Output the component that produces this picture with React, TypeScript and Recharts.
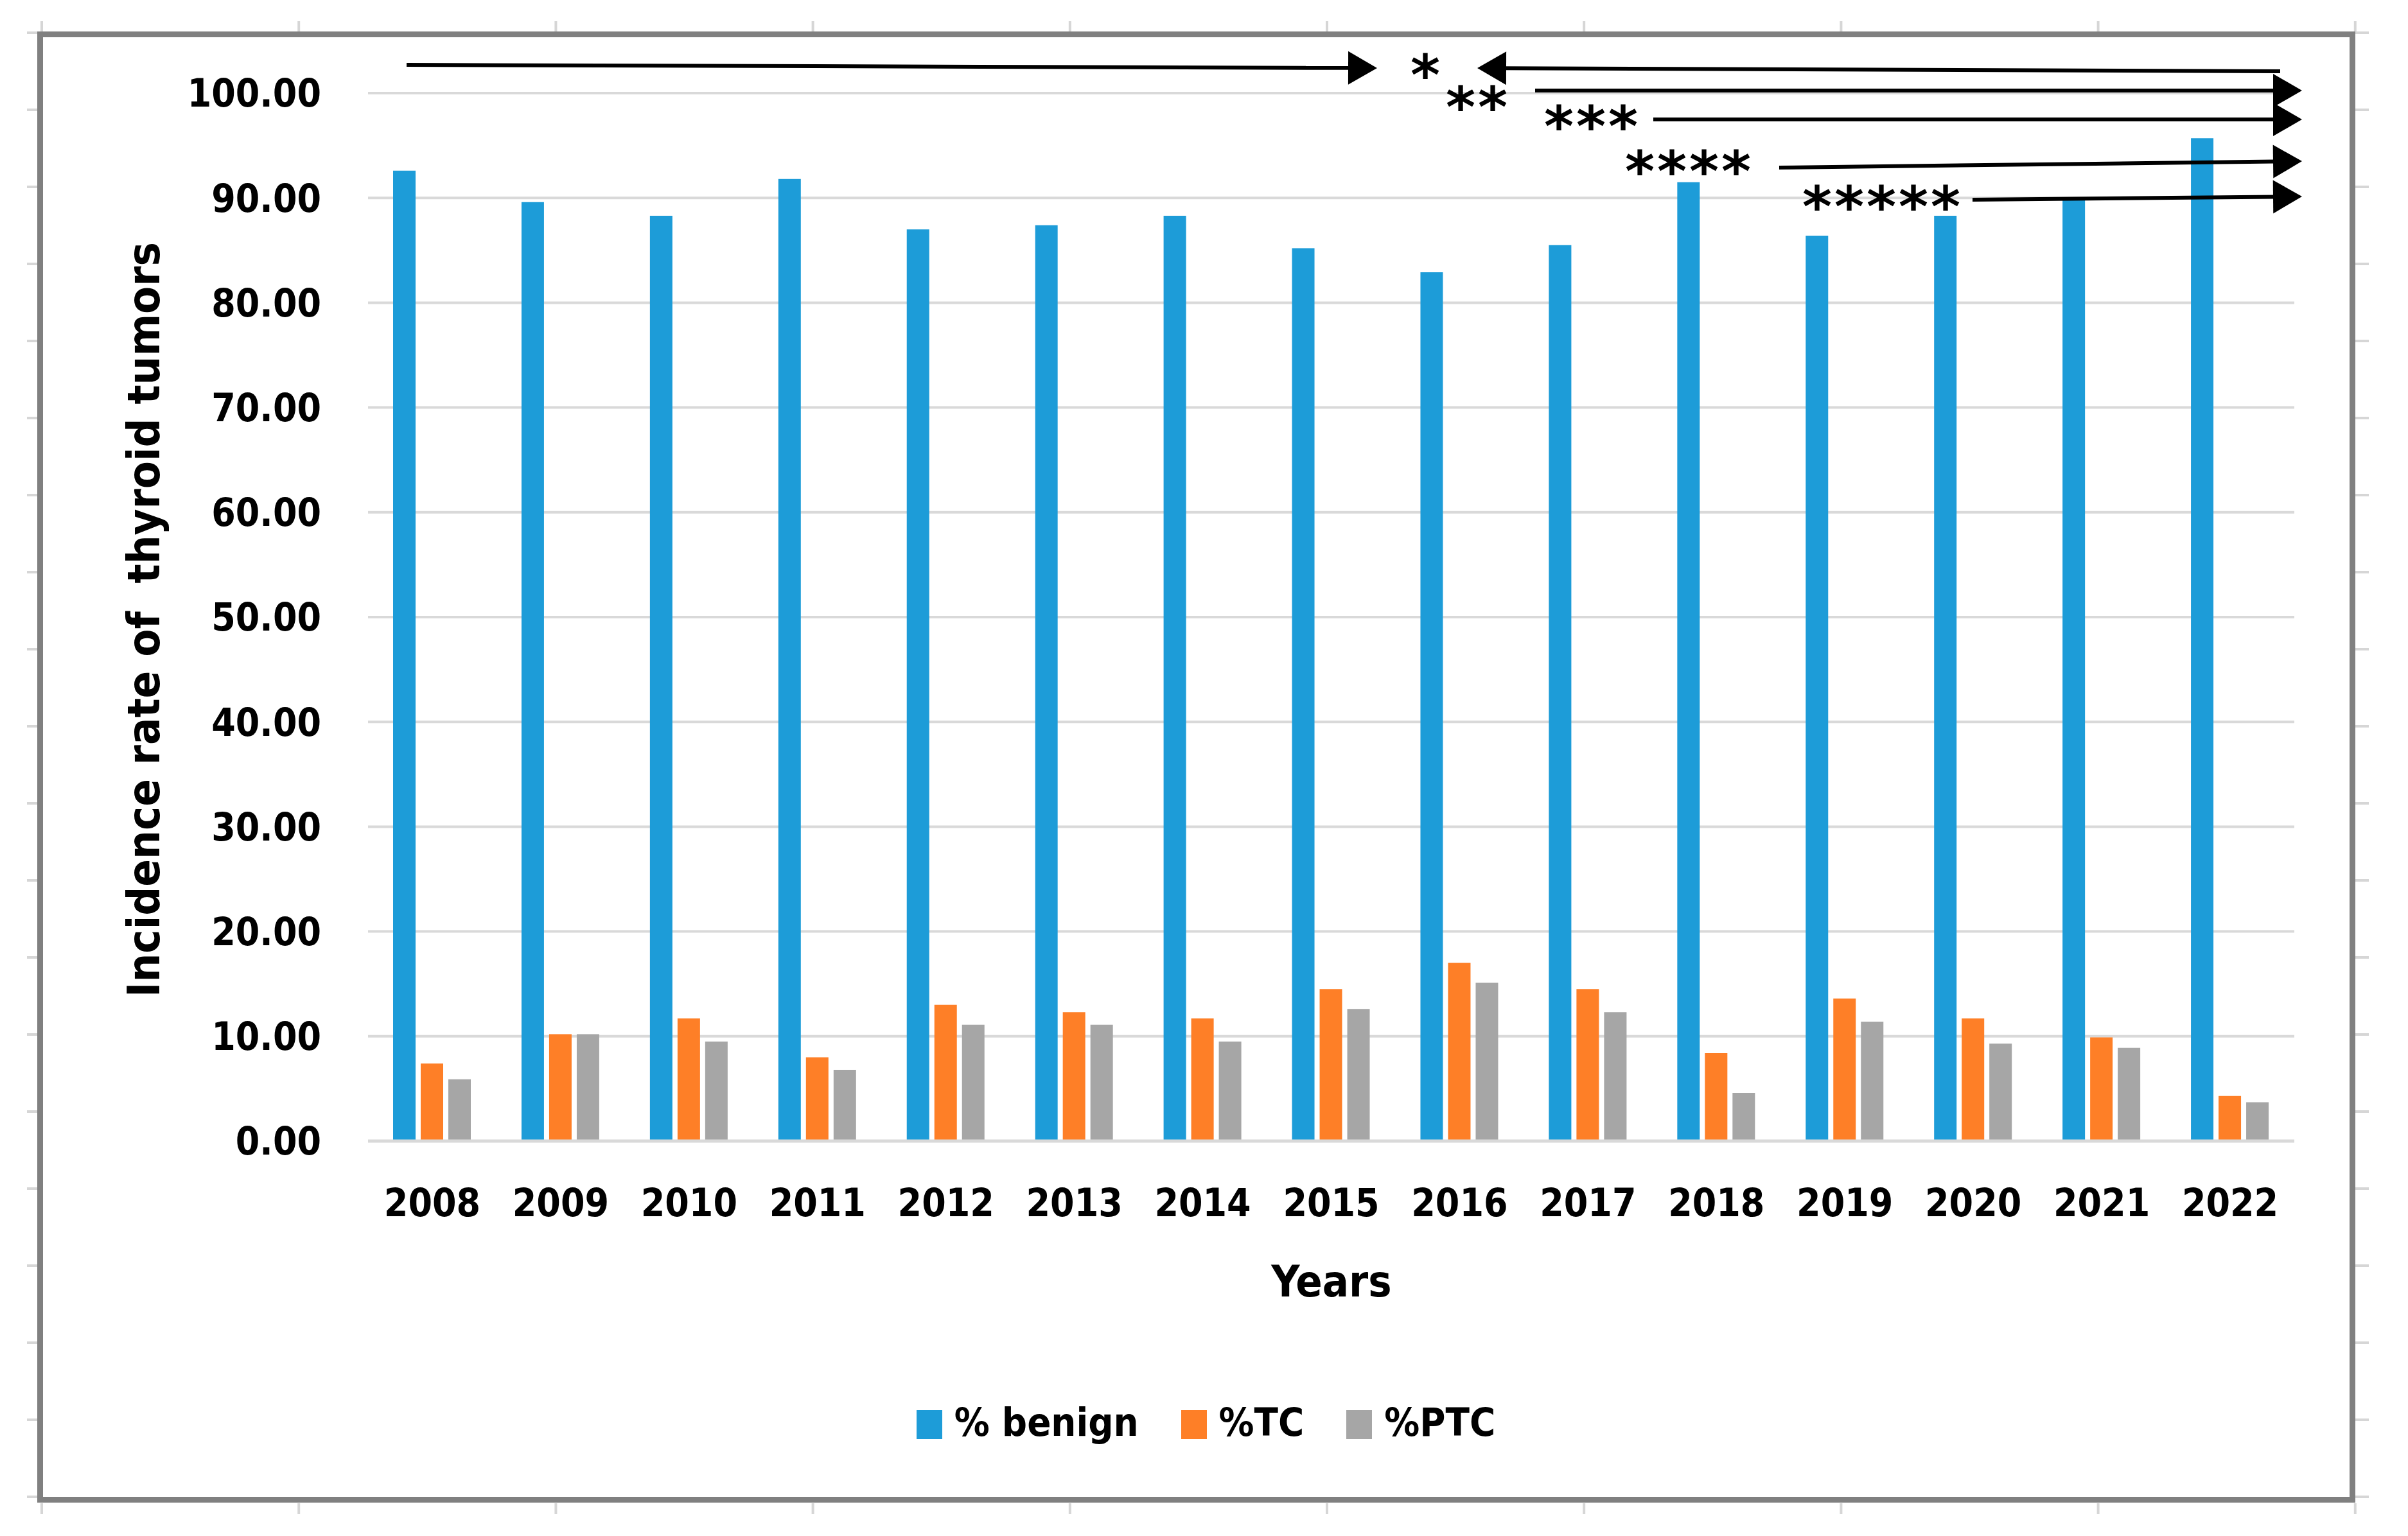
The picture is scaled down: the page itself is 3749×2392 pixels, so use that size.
import React from 'react';
import { BarChart, Bar, XAxis, YAxis, CartesianGrid, Legend } from 'recharts';

const years = ['2008', '2009', '2010', '2011', '2012', '2013', '2014', '2015', '2016', '2017', '2018', '2019', '2020', '2021', '2022'];
const benign = [92.6, 89.6, 88.3, 91.8, 87.0, 87.4, 88.3, 85.2, 82.9, 85.5, 91.5, 86.4, 88.3, 89.9, 95.7];
const tc = [7.4, 10.2, 11.7, 8.0, 13.0, 12.3, 11.7, 14.5, 17.0, 14.5, 8.4, 13.6, 11.7, 9.9, 4.3];
const ptc = [5.9, 10.2, 9.5, 6.8, 11.1, 11.1, 9.5, 12.6, 15.1, 12.3, 4.6, 11.4, 9.3, 8.9, 3.7];
const seriesNames = ['% benign', '%TC', '%PTC'];
const yTicks = [0, 10, 20, 30, 40, 50, 60, 70, 80, 90, 100];
const stars = ['*', '**', '***', '****', '*****'];

const data = years.map((year, i) => ({ year, benign: benign[i], tc: tc[i], ptc: ptc[i] }));

const W = 3749;
const H = 2392;
const FONT = '"DejaVu Sans Condensed", "DejaVu Sans", sans-serif';

// significance annotations drawn over the plot (pixel space)
const starPos = [
  { x: 2196, top: 83 },
  { x: 2251, top: 133 },
  { x: 2404, top: 163 },
  { x: 2530, top: 233 },
  { x: 2806, top: 288 },
];
const arrows = [
  { x1: 633, y1: 101, x2: 2144, y2: 106 },
  { x1: 3550, y1: 111, x2: 2300, y2: 106 },
  { x1: 2390, y1: 141, x2: 3584, y2: 141 },
  { x1: 2574, y1: 186, x2: 3584, y2: 186 },
  { x1: 2770, y1: 261, x2: 3584, y2: 251 },
  { x1: 3071, y1: 311, x2: 3584, y2: 306 },
];

function Arrow({ x1, y1, x2, y2 }: { x1: number; y1: number; x2: number; y2: number }) {
  const len = Math.hypot(x2 - x1, y2 - y1);
  const ux = (x2 - x1) / len;
  const uy = (y2 - y1) / len;
  const hl = 45;
  const hw = 26;
  const bx = x2 - ux * hl;
  const by = y2 - uy * hl;
  const pts = `${x2},${y2} ${bx - uy * hw},${by + ux * hw} ${bx + uy * hw},${by - ux * hw}`;
  return (
    <g>
      <line x1={x1} y1={y1} x2={bx + ux * 2} y2={by + uy * 2} stroke="#000" strokeWidth={6} />
      <polygon points={pts} fill="#000" />
    </g>
  );
}

function renderLegend(props: any) {
  const items = [...(props.payload || [])].sort(
    (a: any, b: any) => seriesNames.indexOf(a.value) - seriesNames.indexOf(b.value)
  );
  return (
    <div style={{ display: 'flex', justifyContent: 'center', gap: 66 }}>
      {items.map((entry: any) => (
        <div key={entry.value} style={{ display: 'flex', alignItems: 'flex-start' }}>
          <div style={{ width: 40, height: 45, marginTop: 12, marginRight: 19, background: entry.color }} />
          <span style={{ fontFamily: FONT, fontWeight: 'bold', fontSize: 61, lineHeight: '61px', color: '#000' }}>
            {entry.value}
          </span>
        </div>
      ))}
    </div>
  );
}

const gridX = Array.from({ length: 10 }, (_, k) => 65 + k * 400.2);
const gridY = Array.from({ length: 20 }, (_, k) => 51 + k * 120);

export default function App() {
  return (
    <div style={{ position: 'fixed', left: 0, top: 0, width: W, height: H, background: '#fff' }}>
      <BarChart
        width={W}
        height={H}
        data={data}
        margin={{ top: 145, right: 177, bottom: 415, left: 373 }}
        barSize={35}
        barGap={8}
      >
        <CartesianGrid vertical={false} stroke="#d9d9d9" strokeWidth={4} />
        <XAxis
          dataKey="year"
          height={200}
          tickSize={0}
          tickMargin={74}
          axisLine={{ stroke: '#d9d9d9', strokeWidth: 5 }}
          tick={{ fill: '#000', fontSize: 60, fontWeight: 'bold', fontFamily: FONT }}
          interval={0}
        />
        <YAxis
          width={200}
          domain={[0, 100]}
          ticks={yTicks}
          tickSize={0}
          tickMargin={73}
          axisLine={false}
          tickFormatter={(v: number) => v.toFixed(2)}
          tick={{ fill: '#000', fontSize: 60, fontWeight: 'bold', fontFamily: FONT }}
        />
        <Legend
          layout="horizontal"
          verticalAlign="middle"
          align="center"
          wrapperStyle={{ top: 2184, left: 0, width: 3755 }}
          content={renderLegend}
        />
        <Bar dataKey="benign" name={seriesNames[0]} fill="#1d9cd8" isAnimationActive={false} />
        <Bar dataKey="tc" name={seriesNames[1]} fill="#fe7f27" isAnimationActive={false} />
        <Bar dataKey="ptc" name={seriesNames[2]} fill="#a6a6a6" isAnimationActive={false} />
      </BarChart>
      <svg
        width={W}
        height={H}
        style={{ position: 'absolute', left: 0, top: 0, pointerEvents: 'none' }}
      >
        {gridX.map((x) => (
          <g key={`gx-${x}`}>
            <line x1={x} y1={33} x2={x} y2={49} stroke="#d6d6d6" strokeWidth={4} />
            <line x1={x} y1={2341} x2={x} y2={2358} stroke="#d6d6d6" strokeWidth={4} />
          </g>
        ))}
        {gridY.map((y) => (
          <g key={`gy-${y}`}>
            <line x1={42} y1={y} x2={58} y2={y} stroke="#d6d6d6" strokeWidth={4} />
            <line x1={3667} y1={y} x2={3688} y2={y} stroke="#d6d6d6" strokeWidth={4} />
          </g>
        ))}
        <rect x={62.5} y={53.5} width={3600} height={2282} fill="none" stroke="#808080" strokeWidth={9} />
        <text
          x={248}
          y={965}
          transform="rotate(-90 248 965)"
          textAnchor="middle"
          fontFamily={FONT}
          fontWeight="bold"
          fontSize={70}
          fill="#000"
          style={{ whiteSpace: 'pre' }}
        >
          Incidence rate of  thyroid tumors
        </text>
        <text x={2073} y={2019} textAnchor="middle" fontFamily={FONT} fontWeight="bold" fontSize={68} fill="#000">
          Years
        </text>
        {arrows.map((a, i) => (
          <Arrow key={`arrow-${i}`} {...a} />
        ))}
        {stars.map((s, i) => (
          <text
            key={`star-${i}`}
            x={starPos[i].x}
            y={starPos[i].top + 64}
            fontFamily='"DejaVu Sans", sans-serif'
            fontWeight="bold"
            fontSize={88}
            letterSpacing={4}
            fill="#000"
          >
            {s}
          </text>
        ))}
      </svg>
    </div>
  );
}
